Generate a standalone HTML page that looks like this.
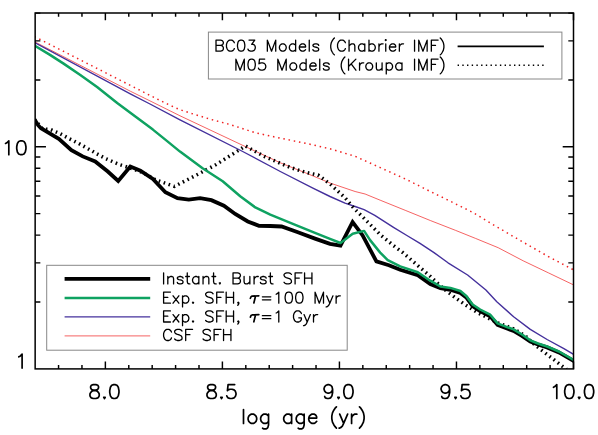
<!DOCTYPE html><html><head><meta charset="utf-8"><title>chart</title><style>html,body{margin:0;padding:0;background:#fff;font-family:"Liberation Sans",sans-serif}svg{display:block}</style></head><body><svg width="598" height="435" viewBox="0 0 598 435">
<rect width="598" height="435" fill="#fff"/>
<defs><clipPath id="c"><rect x="35.1" y="13.0" width="538.4" height="355.9"/></clipPath></defs>
<g clip-path="url(#c)" fill="none" stroke-linejoin="round">
<path d="M34.5,41.7 L130.3,91.2 L150.0,100.9 L180.0,115.8 L245.2,146.5 L280.3,162.8 L305.4,172.8 L330.0,183.0 L355.1,191.5 L365.1,194.0 L380.2,200.2 L405.2,210.3 L430.3,220.5 L455.4,230.3 L475.5,238.4 L498.2,247.7 L523.2,260.8 L548.3,272.8 L574.0,285.1" stroke="#f02020" stroke-width="0.70"/>
<path d="M34.5,36.6 L151.2,96.0 L165.4,103.1 L174.8,107.5 L179.5,109.5 L184.6,111.2 L194.5,114.4 L209.5,119.0 L230.2,124.6 L255.2,132.7 L280.3,138.2 L305.4,143.2 L330.0,148.8 L355.1,156.3 L380.2,167.6 L405.2,178.9 L430.3,191.5 L448.0,200.1 L473.1,212.6 L498.2,227.7 L523.2,242.2 L548.3,256.5 L574.0,270.1" stroke="#f02020" stroke-width="1.50" stroke-dasharray="1.5 3.8"/>
<path d="M34.5,42.5 L130.3,93.8 L150.0,104.0 L180.0,119.8 L242.7,151.5 L280.3,171.5 L312.9,188.1 L330.0,196.5 L345.0,203.2 L355.1,206.5 L364.1,209.7 L374.8,215.3 L393.5,227.3 L406.9,235.5 L420.0,243.4 L434.0,252.6 L448.0,262.8 L467.6,275.0 L485.9,290.0 L496.8,301.7 L513.6,316.8 L530.3,329.4 L547.1,339.5 L563.9,348.7 L574.0,354.6" stroke="#44309c" stroke-width="1.40"/>
<path d="M34.5,119.5 L35.5,120.6 L42.5,128.8 L50.7,129.6 L60.4,133.8 L69.5,138.8 L78.6,143.4 L87.7,148.5 L96.5,153.6 L105.8,158.7 L120.3,164.9 L130.3,168.0 L142.9,172.7 L155.4,179.7 L174.5,186.4 L190.4,178.2 L215.2,165.1 L245.5,146.0 L265.3,156.9 L290.4,167.5 L305.5,172.3 L318.0,175.0 L330.0,183.9 L345.0,197.7 L353.4,207.7 L366.8,221.1 L380.1,234.5 L393.5,245.6 L402.9,252.7 L430.3,276.3 L442.9,288.2 L455.4,297.8 L465.0,304.6 L477.6,312.7 L497.7,322.8 L513.6,328.8 L525.3,335.8 L533.7,343.8 L540.3,349.2 L552.9,358.9 L563.7,367.2 L566.5,369.4" stroke="#000" stroke-width="3.50" stroke-dasharray="1.6 3.6"/>
<path d="M34.5,119.5 L35.5,121.0 L38.1,125.2 L41.0,128.2 L44.2,130.2 L58.8,138.9 L71.4,150.1 L82.7,156.4 L95.2,161.4 L107.8,171.5 L118.2,180.9 L130.3,166.5 L140.4,170.7 L152.9,179.0 L165.4,192.3 L177.5,198.2 L188.8,199.7 L200.1,198.2 L211.4,200.2 L223.9,205.7 L235.2,214.0 L247.8,221.5 L259.0,225.8 L270.3,226.0 L281.6,226.5 L297.9,232.3 L315.0,238.6 L330.0,243.8 L340.5,245.6 L352.6,222.0 L362.5,235.2 L376.4,261.4 L388.9,265.2 L400.2,269.7 L417.8,275.2 L430.3,284.0 L440.4,288.2 L450.4,289.8 L460.4,293.0 L466.3,297.4 L472.6,306.0 L480.1,311.0 L490.2,316.2 L497.6,325.0 L507.7,328.8 L513.6,330.9 L522.0,336.0 L530.3,341.6 L538.0,344.5 L547.1,347.4 L558.9,352.4 L573.1,360.6 L574.0,361.2" stroke="#000" stroke-width="3.80" stroke-linejoin="miter" stroke-miterlimit="5"/>
<path d="M34.5,45.6 L50.0,54.9 L63.6,63.6 L80.3,75.0 L97.1,87.0 L117.2,103.0 L130.3,112.8 L152.9,129.6 L165.0,139.4 L180.0,151.6 L202.6,168.2 L222.7,181.3 L240.2,196.3 L255.3,207.4 L270.3,214.7 L290.4,222.8 L315.0,232.8 L330.0,238.8 L340.5,243.0 L352.7,233.8 L364.1,230.9 L370.1,240.1 L380.2,252.6 L387.7,260.1 L400.2,266.4 L417.8,272.2 L430.3,280.7 L440.4,286.5 L450.4,287.9 L460.4,291.0 L466.3,296.0 L472.6,304.5 L480.1,309.5 L490.2,314.7 L497.6,323.4 L507.7,327.3 L513.6,329.4 L522.0,334.5 L530.3,340.3 L538.0,343.5 L547.1,346.5 L558.9,351.5 L573.1,359.6 L574.0,360.2" stroke="#0fa261" stroke-width="2.50"/>
</g>
<rect x="208.4" y="32.1" width="353.5" height="46.9" fill="#fff" stroke="#888" stroke-width="1.00"/>
<rect x="46.7" y="265.3" width="300.5" height="84.9" fill="#fff" stroke="#888" stroke-width="1.00"/>
<path d="M457.6,46.4 H543.9" stroke="#000" stroke-width="1.7"/>
<path d="M457.6,65.2 H543.9" stroke="#000" stroke-width="1.4" stroke-dasharray="1.4 3.3"/>
<path d="M64.6,278.9 H150.2" stroke="#000" stroke-width="3.80"/>
<path d="M64.6,297.9 H150.2" stroke="#0fa261" stroke-width="2.50"/>
<path d="M64.6,316.9 H150.2" stroke="#44309c" stroke-width="1.40"/>
<path d="M64.6,335.9 H150.2" stroke="#f02020" stroke-width="0.70"/>
<rect x="35.15" y="13.00" width="538.35" height="355.90" fill="none" stroke="#000" stroke-width="1.50"/>
<path d="M58.56,368.90 v-3.80 M58.56,13.00 v3.80 M81.96,368.90 v-3.80 M81.96,13.00 v3.80 M105.37,368.90 v-7.30 M105.37,13.00 v7.30 M128.78,368.90 v-3.80 M128.78,13.00 v3.80 M152.18,368.90 v-3.80 M152.18,13.00 v3.80 M175.59,368.90 v-3.80 M175.59,13.00 v3.80 M199.00,368.90 v-3.80 M199.00,13.00 v3.80 M222.40,368.90 v-7.30 M222.40,13.00 v7.30 M245.81,368.90 v-3.80 M245.81,13.00 v3.80 M269.22,368.90 v-3.80 M269.22,13.00 v3.80 M292.62,368.90 v-3.80 M292.62,13.00 v3.80 M316.03,368.90 v-3.80 M316.03,13.00 v3.80 M339.43,368.90 v-7.30 M339.43,13.00 v7.30 M362.84,368.90 v-3.80 M362.84,13.00 v3.80 M386.25,368.90 v-3.80 M386.25,13.00 v3.80 M409.65,368.90 v-3.80 M409.65,13.00 v3.80 M433.06,368.90 v-3.80 M433.06,13.00 v3.80 M456.47,368.90 v-7.30 M456.47,13.00 v7.30 M479.87,368.90 v-3.80 M479.87,13.00 v3.80 M503.28,368.90 v-3.80 M503.28,13.00 v3.80 M526.69,368.90 v-3.80 M526.69,13.00 v3.80 M550.09,368.90 v-3.80 M550.09,13.00 v3.80 M573.50,368.90 v-7.30 M573.50,13.00 v7.30 M35.15,301.97 h5.20 M573.50,301.97 h-5.20 M35.15,262.88 h5.20 M573.50,262.88 h-5.20 M35.15,235.14 h5.20 M573.50,235.14 h-5.20 M35.15,213.63 h5.20 M573.50,213.63 h-5.20 M35.15,196.05 h5.20 M573.50,196.05 h-5.20 M35.15,181.19 h5.20 M573.50,181.19 h-5.20 M35.15,168.31 h5.20 M573.50,168.31 h-5.20 M35.15,156.96 h5.20 M573.50,156.96 h-5.20 M35.15,146.80 h10.80 M573.50,146.80 h-10.80 M35.15,79.97 h5.20 M573.50,79.97 h-5.20 M35.15,40.88 h5.20 M573.50,40.88 h-5.20 M35.15,13.14 h5.20 M573.50,13.14 h-5.20" stroke="#000" stroke-width="1.45" fill="none"/>
<path d="M5.52,143.45 L6.84,142.78 L8.82,140.80 L8.82,154.70 M25.29,152.05 L23.97,154.04 L22.00,154.70 L20.68,154.70 L18.70,154.04 L17.38,152.05 L16.72,148.74 L16.72,146.76 L17.38,143.45 L18.70,141.46 L20.68,140.80 L22.00,140.80 L23.97,141.46 L25.29,143.45 L25.95,146.76 L25.95,148.74 L25.29,152.05" fill="none" stroke="#000" stroke-width="1.70" stroke-linecap="round" stroke-linejoin="round"/>
<path d="M18.80,356.85 L20.12,356.18 L22.10,354.20 L22.10,368.10" fill="none" stroke="#000" stroke-width="1.70" stroke-linecap="round" stroke-linejoin="round"/>
<path d="M93.93,390.56 L96.56,389.89 L97.88,389.23 L98.54,387.91 L98.54,386.58 L97.88,385.26 L95.90,384.60 L93.27,384.60 L91.29,385.26 L90.63,386.58 L90.63,387.91 L91.29,389.23 L92.61,389.89 L95.24,390.56 L97.22,391.22 L98.54,392.54 L99.20,393.87 L99.20,395.85 L98.54,397.18 L97.88,397.84 L95.90,398.50 L93.27,398.50 L91.29,397.84 L90.63,397.18 L89.97,395.85 L89.97,393.87 L90.63,392.54 L91.95,391.22 L93.93,390.56 M103.74,397.37 L105.19,397.37 L104.47,398.70 L103.74,397.37 M104.47,397.51 L104.47,398.17 M118.31,395.85 L116.99,397.84 L115.01,398.50 L113.70,398.50 L111.72,397.84 L110.40,395.85 L109.74,392.54 L109.74,390.56 L110.40,387.25 L111.72,385.26 L113.70,384.60 L115.01,384.60 L116.99,385.26 L118.31,387.25 L118.97,390.56 L118.97,392.54 L118.31,395.85" fill="none" stroke="#000" stroke-width="1.70" stroke-linecap="round" stroke-linejoin="round"/>
<path d="M210.96,390.56 L213.59,389.89 L214.91,389.23 L215.57,387.91 L215.57,386.58 L214.91,385.26 L212.94,384.60 L210.30,384.60 L208.32,385.26 L207.66,386.58 L207.66,387.91 L208.32,389.23 L209.64,389.89 L212.28,390.56 L214.25,391.22 L215.57,392.54 L216.23,393.87 L216.23,395.85 L215.57,397.18 L214.91,397.84 L212.94,398.50 L210.30,398.50 L208.32,397.84 L207.66,397.18 L207.00,395.85 L207.00,393.87 L207.66,392.54 L208.98,391.22 L210.96,390.56 M220.78,397.37 L222.23,397.37 L221.50,398.70 L220.78,397.37 M221.50,397.51 L221.50,398.17 M226.77,395.85 L227.43,397.18 L228.09,397.84 L230.07,398.50 L232.05,398.50 L234.02,397.84 L235.34,396.51 L236.00,394.53 L236.00,393.20 L235.34,391.22 L234.02,389.89 L232.05,389.23 L230.07,389.23 L228.09,389.89 L227.43,390.56 L228.09,384.60 L234.68,384.60" fill="none" stroke="#000" stroke-width="1.70" stroke-linecap="round" stroke-linejoin="round"/>
<path d="M324.70,396.51 L325.35,397.84 L327.33,398.50 L328.65,398.50 L330.63,397.84 L331.94,395.85 L332.60,392.54 L332.60,389.23 L331.94,386.58 L330.63,385.26 L328.65,384.60 L327.99,384.60 L326.01,385.26 L324.70,386.58 L324.04,388.57 L324.04,389.23 L324.70,391.22 L326.01,392.54 L327.99,393.20 L328.65,393.20 L330.63,392.54 L331.94,391.22 L332.60,389.23 M337.81,397.37 L339.26,397.37 L338.53,398.70 L337.81,397.37 M338.53,397.51 L338.53,398.17 M352.37,395.85 L351.06,397.84 L349.08,398.50 L347.76,398.50 L345.78,397.84 L344.47,395.85 L343.81,392.54 L343.81,390.56 L344.47,387.25 L345.78,385.26 L347.76,384.60 L349.08,384.60 L351.06,385.26 L352.37,387.25 L353.03,390.56 L353.03,392.54 L352.37,395.85" fill="none" stroke="#000" stroke-width="1.70" stroke-linecap="round" stroke-linejoin="round"/>
<path d="M441.73,396.51 L442.39,397.84 L444.36,398.50 L445.68,398.50 L447.66,397.84 L448.98,395.85 L449.64,392.54 L449.64,389.23 L448.98,386.58 L447.66,385.26 L445.68,384.60 L445.02,384.60 L443.05,385.26 L441.73,386.58 L441.07,388.57 L441.07,389.23 L441.73,391.22 L443.05,392.54 L445.02,393.20 L445.68,393.20 L447.66,392.54 L448.98,391.22 L449.64,389.23 M454.84,397.37 L456.29,397.37 L455.57,398.70 L454.84,397.37 M455.57,397.51 L455.57,398.17 M460.84,395.85 L461.50,397.18 L462.16,397.84 L464.13,398.50 L466.11,398.50 L468.09,397.84 L469.41,396.51 L470.07,394.53 L470.07,393.20 L469.41,391.22 L468.09,389.89 L466.11,389.23 L464.13,389.23 L462.16,389.89 L461.50,390.56 L462.16,384.60 L468.75,384.60" fill="none" stroke="#000" stroke-width="1.70" stroke-linecap="round" stroke-linejoin="round"/>
<path d="M553.49,387.25 L554.81,386.58 L556.78,384.60 L556.78,398.50 M573.26,395.85 L571.94,397.84 L569.96,398.50 L568.65,398.50 L566.67,397.84 L565.35,395.85 L564.69,392.54 L564.69,390.56 L565.35,387.25 L566.67,385.26 L568.65,384.60 L569.96,384.60 L571.94,385.26 L573.26,387.25 L573.92,390.56 L573.92,392.54 L573.26,395.85 M578.47,397.37 L579.91,397.37 L579.19,398.70 L578.47,397.37 M579.19,397.51 L579.19,398.17 M593.03,395.85 L591.71,397.84 L589.73,398.50 L588.42,398.50 L586.44,397.84 L585.12,395.85 L584.46,392.54 L584.46,390.56 L585.12,387.25 L586.44,385.26 L588.42,384.60 L589.73,384.60 L591.71,385.26 L593.03,387.25 L593.69,390.56 L593.69,392.54 L593.03,395.85" fill="none" stroke="#000" stroke-width="1.70" stroke-linecap="round" stroke-linejoin="round"/>
<path d="M243.50,409.50 L243.50,423.40 M256.02,421.41 L254.70,422.74 L253.39,423.40 L251.41,423.40 L250.09,422.74 L248.77,421.41 L248.11,419.43 L248.11,418.10 L248.77,416.12 L250.09,414.79 L251.41,414.13 L253.39,414.13 L254.70,414.79 L256.02,416.12 L256.68,418.10 L256.68,419.43 L256.02,421.41 M268.54,414.13 L268.54,424.99 L267.88,427.37 L267.23,428.17 L265.91,428.96 L263.93,428.96 L262.61,428.17 M268.54,421.41 L267.23,422.74 L265.91,423.40 L263.93,423.40 L262.61,422.74 L261.29,421.41 L260.64,419.43 L260.64,418.10 L261.29,416.12 L262.61,414.79 L263.93,414.13 L265.91,414.13 L267.23,414.79 L268.54,416.12 M291.61,414.13 L291.61,423.40 M291.61,421.41 L290.29,422.74 L288.97,423.40 L287.00,423.40 L285.68,422.74 L284.36,421.41 L283.70,419.43 L283.70,418.10 L284.36,416.12 L285.68,414.79 L287.00,414.13 L288.97,414.13 L290.29,414.79 L291.61,416.12 M304.13,414.13 L304.13,424.99 L303.47,427.37 L302.81,428.17 L301.49,428.96 L299.52,428.96 L298.20,428.17 M304.13,421.41 L302.81,422.74 L301.49,423.40 L299.52,423.40 L298.20,422.74 L296.88,421.41 L296.22,419.43 L296.22,418.10 L296.88,416.12 L298.20,414.79 L299.52,414.13 L301.49,414.13 L302.81,414.79 L304.13,416.12 M315.33,414.79 L314.01,414.13 L312.04,414.13 L310.72,414.79 L309.40,416.12 L308.74,418.10 L316.65,418.10 L316.65,416.78 L315.99,415.46 L315.33,414.79 M308.74,418.10 L308.74,419.43 L309.40,421.41 L310.72,422.74 L312.04,423.40 L314.01,423.40 L315.33,422.74 L316.65,421.41 M336.42,428.03 L335.10,426.71 L333.78,424.72 L332.47,422.08 L331.81,418.77 L331.81,416.12 L332.47,412.81 L333.78,410.16 L335.10,408.17 L336.42,406.85 M339.72,414.13 L343.67,423.40 L347.62,414.13 M339.06,428.03 L339.72,428.03 L341.03,427.37 L342.35,426.05 L343.67,423.40 M351.58,414.13 L351.58,423.40 M351.58,418.10 L352.24,416.12 L353.55,414.79 L354.87,414.13 L356.85,414.13 M359.49,406.85 L360.80,408.17 L362.12,410.16 L363.44,412.81 L364.10,416.12 L364.10,418.77 L363.44,422.08 L362.12,424.72 L360.80,426.71 L359.49,428.03" fill="none" stroke="#000" stroke-width="1.70" stroke-linecap="round" stroke-linejoin="round"/>
<path d="M220.72,45.39 L222.29,44.86 L222.82,44.34 L223.34,43.28 L223.34,42.22 L222.82,41.17 L222.29,40.64 L220.72,40.11 L216.01,40.11 L216.01,51.20 L220.72,51.20 L222.29,50.67 L222.82,50.14 L223.34,49.09 L223.34,47.50 L222.82,46.45 L222.29,45.92 L220.72,45.39 L216.01,45.39 M234.34,42.75 L233.82,41.70 L232.77,40.64 L231.72,40.11 L229.63,40.11 L228.58,40.64 L227.53,41.70 L227.01,42.75 L226.48,44.34 L226.48,46.98 L227.01,48.56 L227.53,49.62 L228.58,50.67 L229.63,51.20 L231.72,51.20 L232.77,50.67 L233.82,49.62 L234.34,48.56 M244.30,49.09 L243.25,50.67 L241.68,51.20 L240.63,51.20 L239.06,50.67 L238.01,49.09 L237.48,46.45 L237.48,44.86 L238.01,42.22 L239.06,40.64 L240.63,40.11 L241.68,40.11 L243.25,40.64 L244.30,42.22 L244.82,44.86 L244.82,46.45 L244.30,49.09 M249.01,40.11 L254.77,40.11 L251.63,44.34 L253.20,44.34 L254.25,44.86 L254.77,45.39 L255.30,46.98 L255.30,48.03 L254.77,49.62 L253.73,50.67 L252.15,51.20 L250.58,51.20 L249.01,50.67 L248.49,50.14 L247.96,49.09 M267.35,51.20 L267.35,40.11 L271.54,51.20 L275.73,40.11 L275.73,51.20 M285.68,49.62 L284.64,50.67 L283.59,51.20 L282.02,51.20 L280.97,50.67 L279.92,49.62 L279.40,48.03 L279.40,46.98 L279.92,45.39 L280.97,44.34 L282.02,43.81 L283.59,43.81 L284.64,44.34 L285.68,45.39 L286.21,46.98 L286.21,48.03 L285.68,49.62 M295.64,40.11 L295.64,51.20 M295.64,49.62 L294.59,50.67 L293.54,51.20 L291.97,51.20 L290.92,50.67 L289.87,49.62 L289.35,48.03 L289.35,46.98 L289.87,45.39 L290.92,44.34 L291.97,43.81 L293.54,43.81 L294.59,44.34 L295.64,45.39 M304.54,44.34 L303.50,43.81 L301.92,43.81 L300.88,44.34 L299.83,45.39 L299.30,46.98 L305.59,46.98 L305.59,45.92 L305.07,44.86 L304.54,44.34 M299.30,46.98 L299.30,48.03 L299.83,49.62 L300.88,50.67 L301.92,51.20 L303.50,51.20 L304.54,50.67 L305.59,49.62 M309.26,40.11 L309.26,51.20 M318.69,45.39 L318.16,44.34 L316.59,43.81 L315.02,43.81 L313.45,44.34 L312.93,45.39 L313.45,46.45 L314.50,46.98 L317.12,47.50 L318.16,48.03 L318.69,49.09 L318.69,49.62 L318.16,50.67 L316.59,51.20 L315.02,51.20 L313.45,50.67 L312.93,49.62 M334.41,54.90 L333.36,53.84 L332.31,52.26 L331.26,50.14 L330.74,47.50 L330.74,45.39 L331.26,42.75 L332.31,40.64 L333.36,39.06 L334.41,38.00 M345.41,42.75 L344.88,41.70 L343.84,40.64 L342.79,40.11 L340.69,40.11 L339.64,40.64 L338.60,41.70 L338.07,42.75 L337.55,44.34 L337.55,46.98 L338.07,48.56 L338.60,49.62 L339.64,50.67 L340.69,51.20 L342.79,51.20 L343.84,50.67 L344.88,49.62 L345.41,48.56 M349.07,40.11 L349.07,51.20 M349.07,45.92 L350.65,44.34 L351.69,43.81 L353.27,43.81 L354.31,44.34 L354.84,45.92 L354.84,51.20 M364.79,43.81 L364.79,51.20 M364.79,49.62 L363.74,50.67 L362.70,51.20 L361.12,51.20 L360.08,50.67 L359.03,49.62 L358.50,48.03 L358.50,46.98 L359.03,45.39 L360.08,44.34 L361.12,43.81 L362.70,43.81 L363.74,44.34 L364.79,45.39 M368.98,40.11 L368.98,51.20 M368.98,45.39 L370.03,44.34 L371.08,43.81 L372.65,43.81 L373.70,44.34 L374.75,45.39 L375.27,46.98 L375.27,48.03 L374.75,49.62 L373.70,50.67 L372.65,51.20 L371.08,51.20 L370.03,50.67 L368.98,49.62 M378.94,43.81 L378.94,51.20 M378.94,46.98 L379.46,45.39 L380.51,44.34 L381.56,43.81 L383.13,43.81 M385.75,43.81 L385.75,51.20 M385.75,40.64 L385.22,40.11 L385.75,39.58 L386.27,40.11 L385.75,40.64 M394.65,44.34 L393.61,43.81 L392.03,43.81 L390.99,44.34 L389.94,45.39 L389.41,46.98 L395.70,46.98 L395.70,45.92 L395.18,44.86 L394.65,44.34 M389.41,46.98 L389.41,48.03 L389.94,49.62 L390.99,50.67 L392.03,51.20 L393.61,51.20 L394.65,50.67 L395.70,49.62 M399.37,43.81 L399.37,51.20 M399.37,46.98 L399.89,45.39 L400.94,44.34 L401.99,43.81 L403.56,43.81 M414.56,40.11 L414.56,51.20 M418.75,51.20 L418.75,40.11 L422.94,51.20 L427.14,40.11 L427.14,51.20 M438.14,40.11 L431.33,40.11 L431.33,51.20 M431.33,45.39 L435.52,45.39 M440.23,38.00 L441.28,39.06 L442.33,40.64 L443.38,42.75 L443.90,45.39 L443.90,47.50 L443.38,50.14 L442.33,52.26 L441.28,53.84 L440.23,54.90" fill="none" stroke="#000" stroke-width="1.30" stroke-linecap="round" stroke-linejoin="round"/>
<path d="M235.91,70.20 L235.91,59.11 L240.10,70.20 L244.30,59.11 L244.30,70.20 M254.77,68.09 L253.73,69.67 L252.15,70.20 L251.11,70.20 L249.53,69.67 L248.49,68.09 L247.96,65.45 L247.96,63.86 L248.49,61.22 L249.53,59.64 L251.11,59.11 L252.15,59.11 L253.73,59.64 L254.77,61.22 L255.30,63.86 L255.30,65.45 L254.77,68.09 M258.44,68.09 L258.96,69.14 L259.49,69.67 L261.06,70.20 L262.63,70.20 L264.20,69.67 L265.25,68.62 L265.78,67.03 L265.78,65.98 L265.25,64.39 L264.20,63.34 L262.63,62.81 L261.06,62.81 L259.49,63.34 L258.96,63.86 L259.49,59.11 L264.73,59.11 M277.82,70.20 L277.82,59.11 L282.02,70.20 L286.21,59.11 L286.21,70.20 M296.16,68.62 L295.11,69.67 L294.07,70.20 L292.49,70.20 L291.45,69.67 L290.40,68.62 L289.87,67.03 L289.87,65.98 L290.40,64.39 L291.45,63.34 L292.49,62.81 L294.07,62.81 L295.11,63.34 L296.16,64.39 L296.69,65.98 L296.69,67.03 L296.16,68.62 M306.12,59.11 L306.12,70.20 M306.12,68.62 L305.07,69.67 L304.02,70.20 L302.45,70.20 L301.40,69.67 L300.35,68.62 L299.83,67.03 L299.83,65.98 L300.35,64.39 L301.40,63.34 L302.45,62.81 L304.02,62.81 L305.07,63.34 L306.12,64.39 M315.02,63.34 L313.97,62.81 L312.40,62.81 L311.35,63.34 L310.31,64.39 L309.78,65.98 L316.07,65.98 L316.07,64.92 L315.55,63.86 L315.02,63.34 M309.78,65.98 L309.78,67.03 L310.31,68.62 L311.35,69.67 L312.40,70.20 L313.97,70.20 L315.02,69.67 L316.07,68.62 M319.74,59.11 L319.74,70.20 M329.17,64.39 L328.64,63.34 L327.07,62.81 L325.50,62.81 L323.93,63.34 L323.40,64.39 L323.93,65.45 L324.98,65.98 L327.60,66.50 L328.64,67.03 L329.17,68.09 L329.17,68.62 L328.64,69.67 L327.07,70.20 L325.50,70.20 L323.93,69.67 L323.40,68.62 M344.88,73.90 L343.84,72.84 L342.79,71.26 L341.74,69.14 L341.22,66.50 L341.22,64.39 L341.74,61.75 L342.79,59.64 L343.84,58.06 L344.88,57.00 M348.55,59.11 L348.55,70.20 M348.55,66.50 L355.89,59.11 M351.17,63.86 L355.89,70.20 M359.55,62.81 L359.55,70.20 M359.55,65.98 L360.08,64.39 L361.12,63.34 L362.17,62.81 L363.74,62.81 M372.13,68.62 L371.08,69.67 L370.03,70.20 L368.46,70.20 L367.41,69.67 L366.36,68.62 L365.84,67.03 L365.84,65.98 L366.36,64.39 L367.41,63.34 L368.46,62.81 L370.03,62.81 L371.08,63.34 L372.13,64.39 L372.65,65.98 L372.65,67.03 L372.13,68.62 M382.08,62.81 L382.08,70.20 M376.32,62.81 L376.32,68.09 L376.84,69.67 L377.89,70.20 L379.46,70.20 L380.51,69.67 L382.08,68.09 M386.27,62.81 L386.27,73.90 M386.27,64.39 L387.32,63.34 L388.37,62.81 L389.94,62.81 L390.99,63.34 L392.03,64.39 L392.56,65.98 L392.56,67.03 L392.03,68.62 L390.99,69.67 L389.94,70.20 L388.37,70.20 L387.32,69.67 L386.27,68.62 M401.99,62.81 L401.99,70.20 M401.99,68.62 L400.94,69.67 L399.89,70.20 L398.32,70.20 L397.27,69.67 L396.23,68.62 L395.70,67.03 L395.70,65.98 L396.23,64.39 L397.27,63.34 L398.32,62.81 L399.89,62.81 L400.94,63.34 L401.99,64.39 M414.56,59.11 L414.56,70.20 M418.75,70.20 L418.75,59.11 L422.94,70.20 L427.14,59.11 L427.14,70.20 M438.14,59.11 L431.33,59.11 L431.33,70.20 M431.33,64.39 L435.52,64.39 M440.23,57.00 L441.28,58.06 L442.33,59.64 L443.38,61.75 L443.90,64.39 L443.90,66.50 L443.38,69.14 L442.33,71.26 L441.28,72.84 L440.23,73.90" fill="none" stroke="#000" stroke-width="1.30" stroke-linecap="round" stroke-linejoin="round"/>
<path d="M163.60,272.81 L163.60,283.90 M167.81,276.51 L167.81,283.90 M167.81,278.62 L169.39,277.04 L170.44,276.51 L172.02,276.51 L173.07,277.04 L173.59,278.62 L173.59,283.90 M183.06,278.09 L182.54,277.04 L180.96,276.51 L179.38,276.51 L177.80,277.04 L177.28,278.09 L177.80,279.15 L178.85,279.68 L181.48,280.20 L182.54,280.73 L183.06,281.79 L183.06,282.32 L182.54,283.37 L180.96,283.90 L179.38,283.90 L177.80,283.37 L177.28,282.32 M187.27,272.81 L187.27,281.79 L187.80,283.37 L188.85,283.90 L189.90,283.90 M185.69,276.51 L189.37,276.51 M198.84,276.51 L198.84,283.90 M198.84,282.32 L197.79,283.37 L196.74,283.90 L195.16,283.90 L194.11,283.37 L193.06,282.32 L192.53,280.73 L192.53,279.68 L193.06,278.09 L194.11,277.04 L195.16,276.51 L196.74,276.51 L197.79,277.04 L198.84,278.09 M203.05,276.51 L203.05,283.90 M203.05,278.62 L204.63,277.04 L205.68,276.51 L207.26,276.51 L208.31,277.04 L208.84,278.62 L208.84,283.90 M213.57,272.81 L213.57,281.79 L214.10,283.37 L215.15,283.90 L216.20,283.90 M211.99,276.51 L215.67,276.51 M219.30,283.00 L220.46,283.00 L219.88,284.06 L219.30,283.00 M219.88,283.11 L219.88,283.64 M237.77,278.09 L239.34,277.56 L239.87,277.04 L240.40,275.98 L240.40,274.92 L239.87,273.87 L239.34,273.34 L237.77,272.81 L233.03,272.81 L233.03,283.90 L237.77,283.90 L239.34,283.37 L239.87,282.84 L240.40,281.79 L240.40,280.20 L239.87,279.15 L239.34,278.62 L237.77,278.09 L233.03,278.09 M249.86,276.51 L249.86,283.90 M244.08,276.51 L244.08,281.79 L244.60,283.37 L245.66,283.90 L247.23,283.90 L248.29,283.37 L249.86,281.79 M254.07,276.51 L254.07,283.90 M254.07,279.68 L254.60,278.09 L255.65,277.04 L256.70,276.51 L258.28,276.51 M266.17,278.09 L265.64,277.04 L264.07,276.51 L262.49,276.51 L260.91,277.04 L260.38,278.09 L260.91,279.15 L261.96,279.68 L264.59,280.20 L265.64,280.73 L266.17,281.79 L266.17,282.32 L265.64,283.37 L264.07,283.90 L262.49,283.90 L260.91,283.37 L260.38,282.32 M270.38,272.81 L270.38,281.79 L270.90,283.37 L271.96,283.90 L273.01,283.90 M268.80,276.51 L272.48,276.51 M291.42,274.40 L290.37,273.34 L288.79,272.81 L286.68,272.81 L285.11,273.34 L284.05,274.40 L284.05,275.45 L284.58,276.51 L285.11,277.04 L286.16,277.56 L289.31,278.62 L290.37,279.15 L290.89,279.68 L291.42,280.73 L291.42,282.32 L290.37,283.37 L288.79,283.90 L286.68,283.90 L285.11,283.37 L284.05,282.32 M301.94,272.81 L295.10,272.81 L295.10,283.90 M295.10,278.09 L299.31,278.09 M304.57,272.81 L304.57,283.90 M311.93,272.81 L311.93,283.90 M304.57,278.09 L311.93,278.09" fill="none" stroke="#000" stroke-width="1.30" stroke-linecap="round" stroke-linejoin="round"/>
<path d="M170.44,292.11 L163.60,292.11 L163.60,303.20 L170.44,303.20 M163.60,297.39 L167.81,297.39 M173.07,295.81 L178.85,303.20 M173.07,303.20 L178.85,295.81 M182.54,295.81 L182.54,306.90 M182.54,297.39 L183.59,296.34 L184.64,295.81 L186.22,295.81 L187.27,296.34 L188.32,297.39 L188.85,298.98 L188.85,300.03 L188.32,301.62 L187.27,302.67 L186.22,303.20 L184.64,303.20 L183.59,302.67 L182.54,301.62 M192.48,302.30 L193.63,302.30 L193.06,303.36 L192.48,302.30 M193.06,302.41 L193.06,302.94 M213.04,293.70 L211.99,292.64 L210.41,292.11 L208.31,292.11 L206.73,292.64 L205.68,293.70 L205.68,294.75 L206.21,295.81 L206.73,296.34 L207.78,296.86 L210.94,297.92 L211.99,298.45 L212.52,298.98 L213.04,300.03 L213.04,301.62 L211.99,302.67 L210.41,303.20 L208.31,303.20 L206.73,302.67 L205.68,301.62 M223.56,292.11 L216.73,292.11 L216.73,303.20 M216.73,297.39 L220.93,297.39 M226.19,292.11 L226.19,303.20 M233.56,292.11 L233.56,303.20 M226.19,297.39 L233.56,297.39 M237.77,305.31 L238.29,304.78 L238.82,303.73 L238.82,302.67 L238.29,302.14 L237.77,302.67 L238.29,303.20 L238.82,302.67 M262.38,296.86 L270.80,296.86 M262.38,299.87 L270.80,299.87 M276.16,294.22 L277.22,293.70 L278.79,292.11 L278.79,303.20 M291.94,301.09 L290.89,302.67 L289.31,303.20 L288.26,303.20 L286.68,302.67 L285.63,301.09 L285.11,298.45 L285.11,296.86 L285.63,294.22 L286.68,292.64 L288.26,292.11 L289.31,292.11 L290.89,292.64 L291.94,294.22 L292.47,296.86 L292.47,298.45 L291.94,301.09 M302.46,301.09 L301.41,302.67 L299.83,303.20 L298.78,303.20 L297.20,302.67 L296.15,301.09 L295.63,298.45 L295.63,296.86 L296.15,294.22 L297.20,292.64 L298.78,292.11 L299.83,292.11 L301.41,292.64 L302.46,294.22 L302.99,296.86 L302.99,298.45 L302.46,301.09 M315.09,303.20 L315.09,292.11 L319.30,303.20 L323.50,292.11 L323.50,303.20 M326.66,295.81 L329.82,303.20 L332.97,295.81 M326.13,306.90 L326.66,306.90 L327.71,306.37 L328.76,305.31 L329.82,303.20 M336.13,295.81 L336.13,303.20 M336.13,298.98 L336.65,297.39 L337.71,296.34 L338.76,295.81 L340.34,295.81" fill="none" stroke="#000" stroke-width="1.30" stroke-linecap="round" stroke-linejoin="round"/><path d="M250.39,298.29 L251.02,296.76 L252.23,296.07 L258.81,295.81 M255.54,296.07 L253.86,302.99" fill="none" stroke="#000" stroke-width="1.69" stroke-linecap="round" stroke-linejoin="round"/>
<path d="M170.44,310.91 L163.60,310.91 L163.60,322.00 L170.44,322.00 M163.60,316.19 L167.81,316.19 M173.07,314.61 L178.85,322.00 M173.07,322.00 L178.85,314.61 M182.54,314.61 L182.54,325.70 M182.54,316.19 L183.59,315.14 L184.64,314.61 L186.22,314.61 L187.27,315.14 L188.32,316.19 L188.85,317.78 L188.85,318.83 L188.32,320.42 L187.27,321.47 L186.22,322.00 L184.64,322.00 L183.59,321.47 L182.54,320.42 M192.48,321.10 L193.63,321.10 L193.06,322.16 L192.48,321.10 M193.06,321.21 L193.06,321.74 M213.04,312.50 L211.99,311.44 L210.41,310.91 L208.31,310.91 L206.73,311.44 L205.68,312.50 L205.68,313.55 L206.21,314.61 L206.73,315.14 L207.78,315.66 L210.94,316.72 L211.99,317.25 L212.52,317.78 L213.04,318.83 L213.04,320.42 L211.99,321.47 L210.41,322.00 L208.31,322.00 L206.73,321.47 L205.68,320.42 M223.56,310.91 L216.73,310.91 L216.73,322.00 M216.73,316.19 L220.93,316.19 M226.19,310.91 L226.19,322.00 M233.56,310.91 L233.56,322.00 M226.19,316.19 L233.56,316.19 M237.77,324.11 L238.29,323.58 L238.82,322.53 L238.82,321.47 L238.29,320.94 L237.77,321.47 L238.29,322.00 L238.82,321.47 M262.38,315.66 L270.80,315.66 M262.38,318.67 L270.80,318.67 M276.16,313.02 L277.22,312.50 L278.79,310.91 L278.79,322.00 M301.41,313.55 L300.89,312.50 L299.83,311.44 L298.78,310.91 L296.68,310.91 L295.63,311.44 L294.57,312.50 L294.05,313.55 L293.52,315.14 L293.52,317.78 L294.05,319.36 L294.57,320.42 L295.63,321.47 L296.68,322.00 L298.78,322.00 L299.83,321.47 L300.89,320.42 L301.41,319.36 L301.41,317.78 L298.78,317.78 M304.04,314.61 L307.20,322.00 L310.35,314.61 M303.52,325.70 L304.04,325.70 L305.09,325.17 L306.15,324.11 L307.20,322.00 M313.51,314.61 L313.51,322.00 M313.51,317.78 L314.04,316.19 L315.09,315.14 L316.14,314.61 L317.72,314.61" fill="none" stroke="#000" stroke-width="1.30" stroke-linecap="round" stroke-linejoin="round"/><path d="M250.39,317.09 L251.02,315.56 L252.23,314.87 L258.81,314.61 M255.54,314.87 L253.86,321.79" fill="none" stroke="#000" stroke-width="1.69" stroke-linecap="round" stroke-linejoin="round"/>
<path d="M171.49,332.05 L170.96,331.00 L169.91,329.94 L168.86,329.41 L166.76,329.41 L165.70,329.94 L164.65,331.00 L164.13,332.05 L163.60,333.64 L163.60,336.28 L164.13,337.86 L164.65,338.92 L165.70,339.97 L166.76,340.50 L168.86,340.50 L169.91,339.97 L170.96,338.92 L171.49,337.86 M182.01,331.00 L180.96,329.94 L179.38,329.41 L177.28,329.41 L175.70,329.94 L174.65,331.00 L174.65,332.05 L175.17,333.11 L175.70,333.64 L176.75,334.16 L179.91,335.22 L180.96,335.75 L181.48,336.28 L182.01,337.33 L182.01,338.92 L180.96,339.97 L179.38,340.50 L177.28,340.50 L175.70,339.97 L174.65,338.92 M192.53,329.41 L185.69,329.41 L185.69,340.50 M185.69,334.69 L189.90,334.69 M210.41,331.00 L209.36,329.94 L207.78,329.41 L205.68,329.41 L204.10,329.94 L203.05,331.00 L203.05,332.05 L203.58,333.11 L204.10,333.64 L205.15,334.16 L208.31,335.22 L209.36,335.75 L209.89,336.28 L210.41,337.33 L210.41,338.92 L209.36,339.97 L207.78,340.50 L205.68,340.50 L204.10,339.97 L203.05,338.92 M220.93,329.41 L214.10,329.41 L214.10,340.50 M214.10,334.69 L218.30,334.69 M223.56,329.41 L223.56,340.50 M230.93,329.41 L230.93,340.50 M223.56,334.69 L230.93,334.69" fill="none" stroke="#000" stroke-width="1.30" stroke-linecap="round" stroke-linejoin="round"/>
</svg></body></html>
